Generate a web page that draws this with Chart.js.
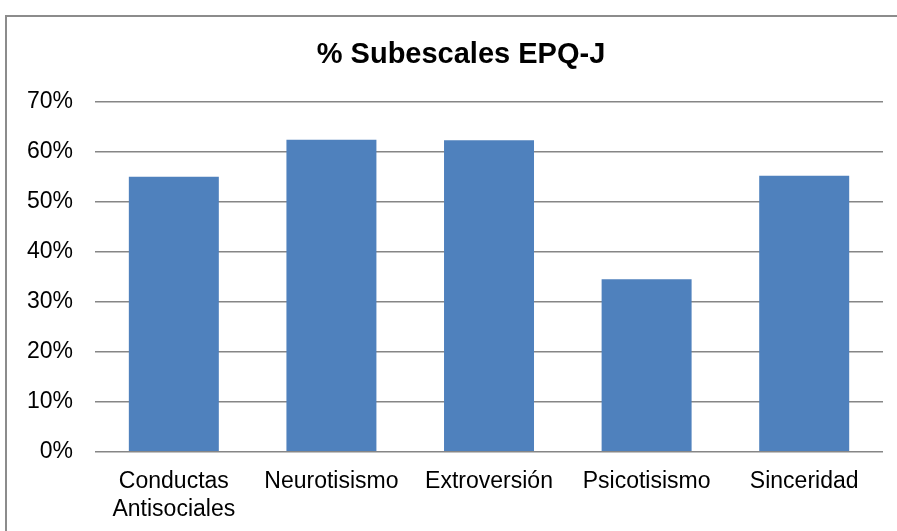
<!DOCTYPE html>
<html>
<head>
<meta charset="utf-8">
<script src="https://cdn.jsdelivr.net/npm/chart.js@4/dist/chart.umd.min.js"></script>
<style>
  html, body { margin: 0; padding: 0; background: #fff; overflow: hidden; }
  #wrap { position: relative; width: 897px; height: 531px; }
  #frame { position: absolute; left: 5px; top: 15px; width: 1000px; height: 1000px;
           border-left: 2px solid #8c8c8c; border-top: 2px solid #8c8c8c; box-sizing: border-box; }
  #c { position: absolute; left: 0; top: 0; }
</style>
</head>
<body>
<div id="wrap">
  <div id="frame"></div>
  <canvas id="c" width="897" height="531"></canvas>
</div>
<script>
const chartTitle = "% Subescales EPQ-J";
const categories = [["Conductas", "Antisociales"], "Neurotisismo", "Extroversión", "Psicotisismo", "Sinceridad"];
const percentValues = [55.0, 62.4, 62.3, 34.5, 55.2];
const yTickMax = 70;
const yTickStep = 10;

const FONT = "'Liberation Sans', Arial, sans-serif";

// shift the title's box a little to the right (the original frame is wider than the picture)
const titleShift = {
  id: 'titleShift',
  afterLayout(chart) {
    if (chart.titleBlock) { chart.titleBlock.left += 34; }
  }
};

new Chart(document.getElementById('c'), {
  type: 'bar',
  data: {
    labels: categories,
    datasets: [{
      data: percentValues,
      backgroundColor: '#4F81BD',
      borderWidth: 0,
      categoryPercentage: 1.0,
      barPercentage: 0.571
    }]
  },
  plugins: [titleShift],
  options: {
    responsive: false,
    animation: false,
    devicePixelRatio: 1,
    layout: { padding: { left: 5, right: 14, top: 0, bottom: -8 } },
    plugins: {
      legend: { display: false },
      tooltip: { enabled: false },
      title: {
        display: true,
        text: chartTitle,
        color: '#000',
        font: { family: FONT, size: 29, weight: 'bold', lineHeight: 1.2 },
        padding: { top: 38, bottom: 29 }
      }
    },
    scales: {
      x: {
        grid: { display: false, drawTicks: false },
        border: { display: false },
        ticks: {
          color: '#000',
          font: { family: FONT, size: 23, lineHeight: 1.2 },
          padding: 16,
          maxRotation: 0,
          autoSkip: false
        }
      },
      y: {
        min: 0,
        max: yTickMax,
        grid: { color: '#868686', lineWidth: 1.5, drawTicks: false },
        border: { display: false },
        ticks: {
          stepSize: yTickStep,
          color: '#000',
          font: { family: FONT, size: 23 },
          padding: 22,
          callback: v => v + '%'
        }
      }
    }
  }
});
</script>
</body>
</html>
